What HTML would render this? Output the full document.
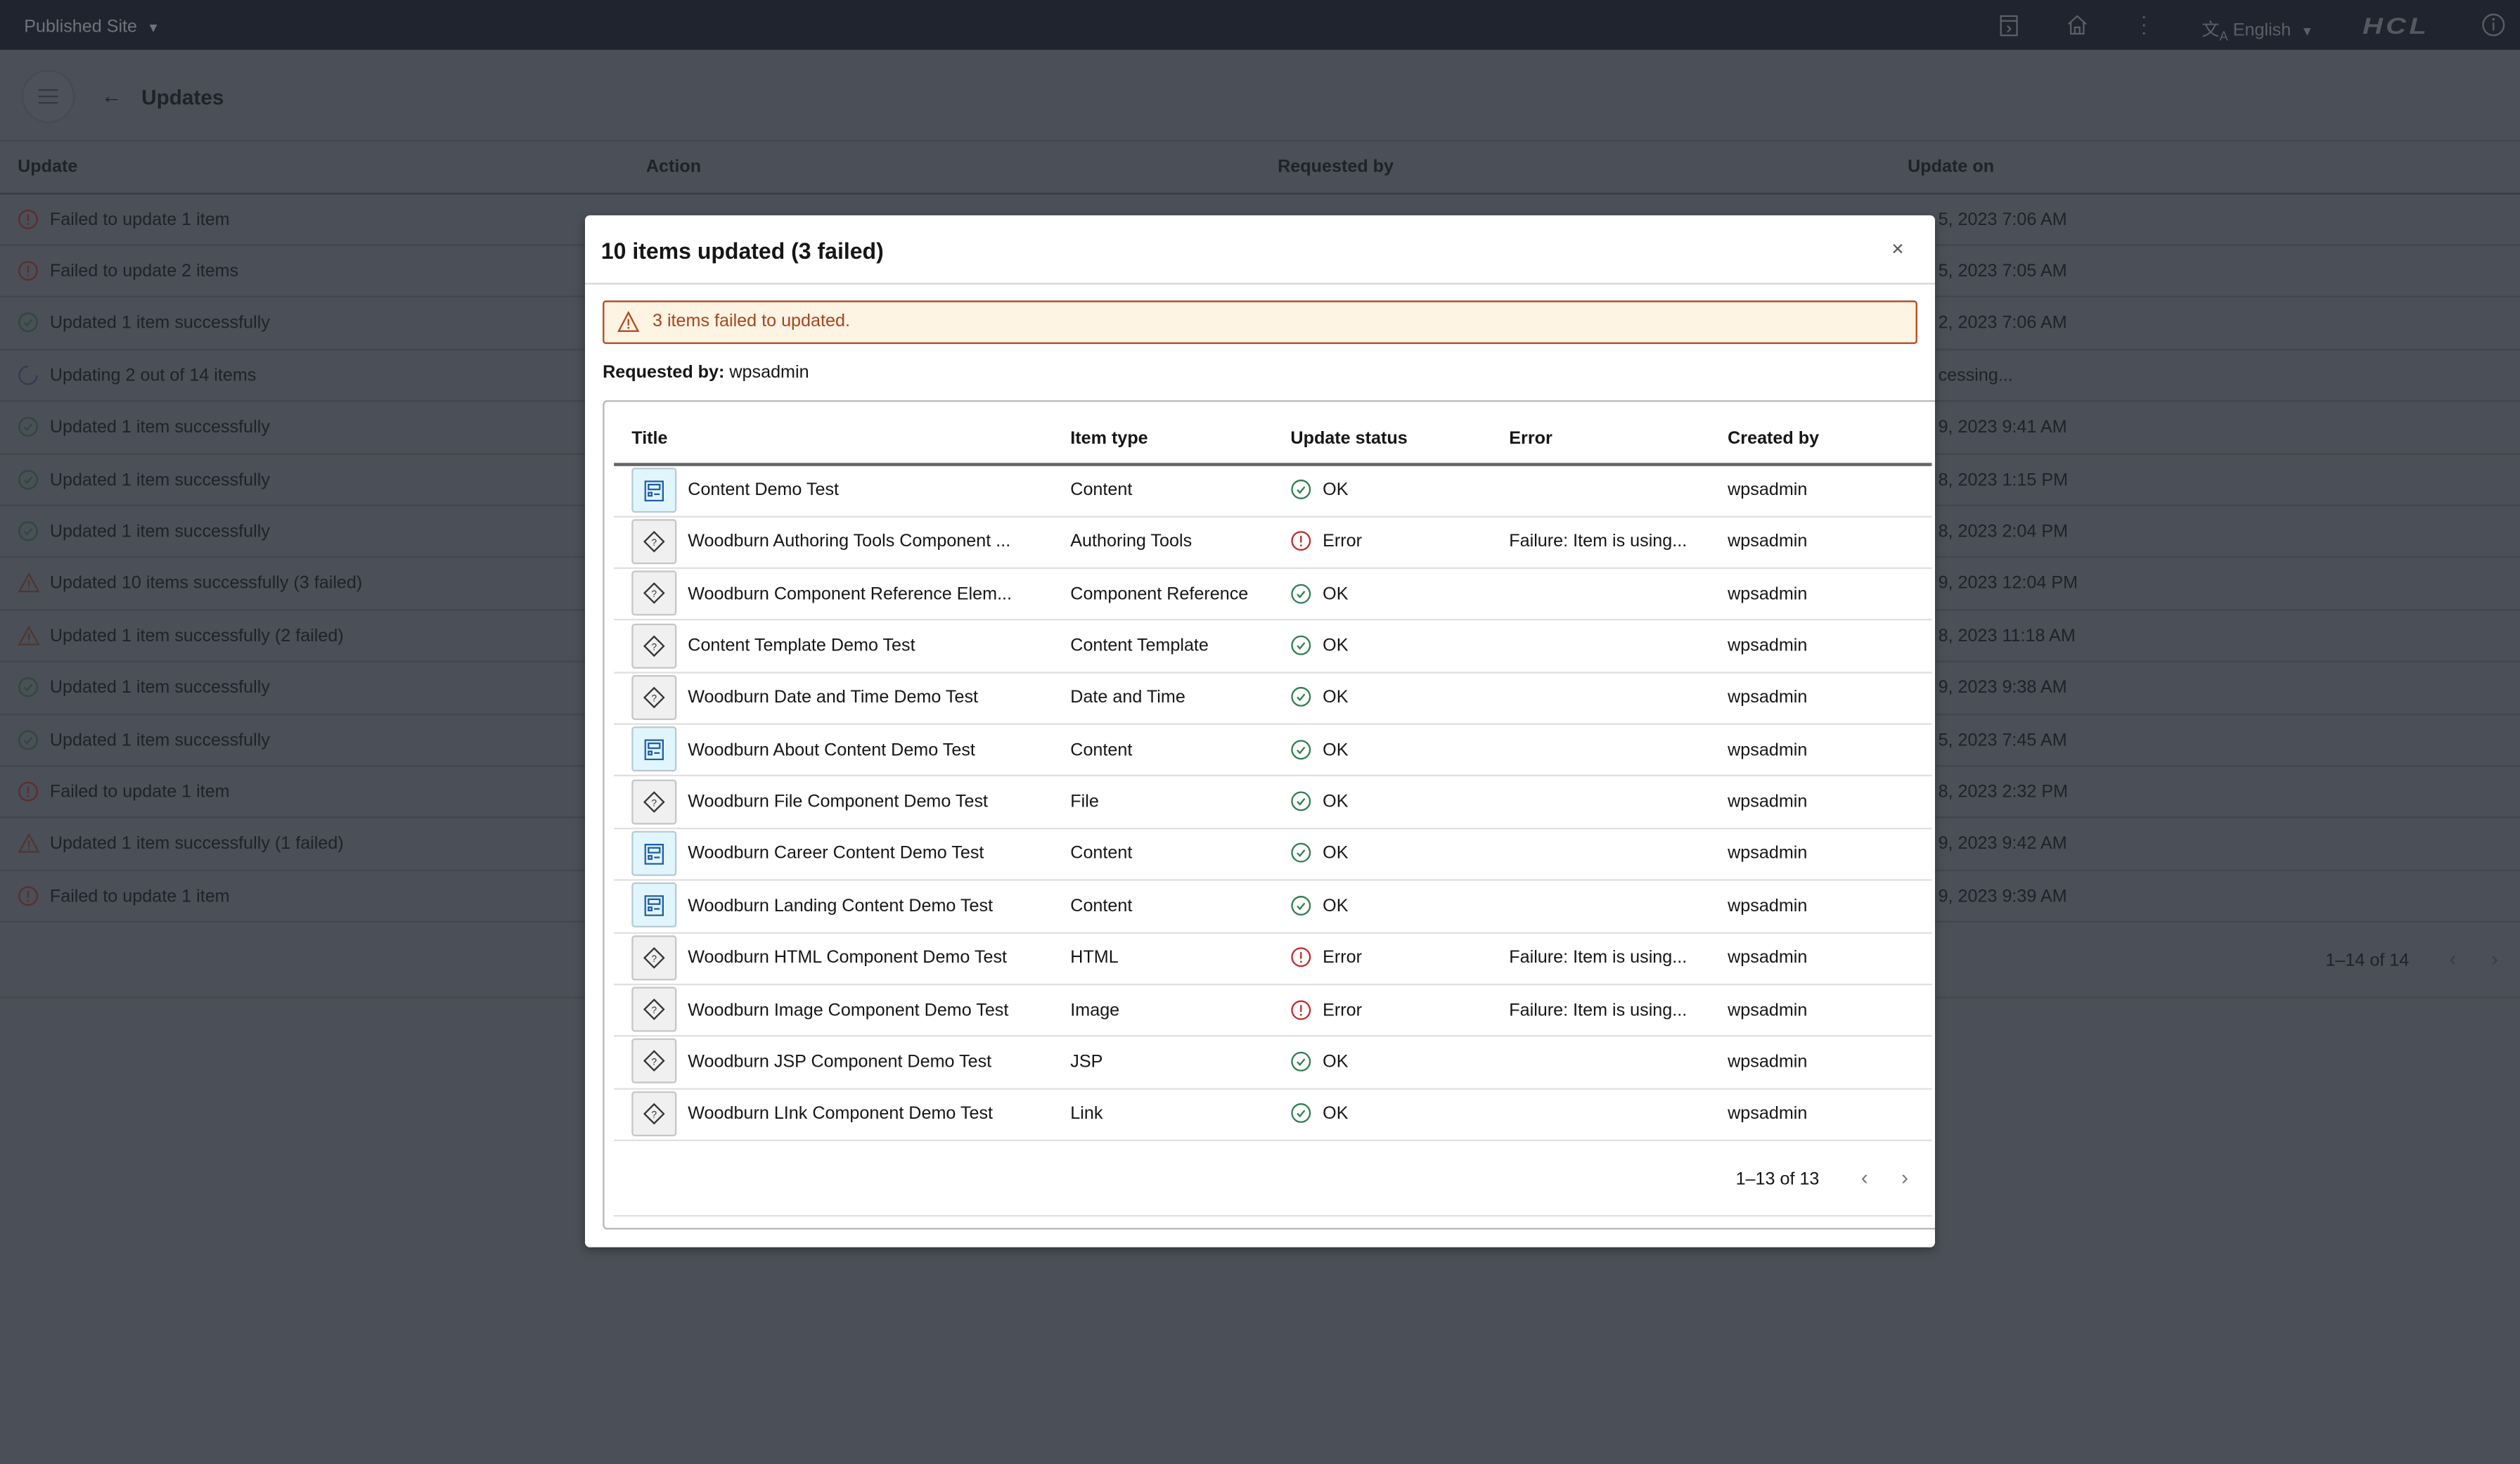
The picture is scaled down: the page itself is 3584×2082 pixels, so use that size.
<!DOCTYPE html>
<html><head><meta charset="utf-8"><style>
*{margin:0;padding:0;box-sizing:border-box}
html,body{width:3584px;height:2082px;overflow:hidden;background:#4b4f57}
#s{position:absolute;left:0;top:0;width:1568px;height:911px;transform:scale(2.285714);transform-origin:0 0;font-family:"Liberation Sans",sans-serif;font-size:11px;color:#1f2227;background:#4b4f57}
.a{position:absolute;white-space:nowrap}
.hl{position:absolute;height:1px;background:#43464d}
.m{color:#161616}
svg{position:absolute}
</style></head><body><div id="s">
<div class="a" style="left:0;top:0;width:1568px;height:31px;background:#20242e"></div>
<div class="a" style="left:15px;top:11px;color:#6f737b;font-size:11px">Published Site&nbsp;&nbsp;<span style="font-size:8px">▼</span></div>
<svg style="left:1244px;top:9px" width="12" height="14" viewBox="0 0 12 14"><rect x="1" y="1" width="10" height="12" fill="none" stroke="#5b5f66"/><line x1="1" y1="4" x2="11" y2="4" stroke="#5b5f66"/><path d="M5 7l2 2-2 2" fill="none" stroke="#5b5f66"/></svg>
<svg style="left:1285px;top:8px" width="15" height="15" viewBox="0 0 15 15"><path d="M2 7L7.5 2 13 7M3.5 6v7h8V6M6 13v-4h3v4" fill="none" stroke="#5b5f66"/></svg>
<div class="a" style="left:1332px;top:8px;width:3px;color:#5b5f66;font-size:12px;line-height:5px">·<br>·<br>·</div>
<div class="a" style="left:1370px;top:10px;color:#5b5f66;font-size:11px">文<sub style="font-size:8px">A</sub> English&nbsp;&nbsp;<span style="font-size:8px">▼</span></div>
<div class="a" style="left:1470px;top:8px;color:#55595f;font-size:14px;font-weight:bold;font-style:italic;letter-spacing:1.5px;transform:scaleX(1.25);transform-origin:0 0">HCL</div>
<svg style="left:1544px;top:8px" width="15" height="15"><circle cx="7.5" cy="7.5" r="6.5" fill="none" stroke="#5b5f66"/><line x1="7.5" y1="6" x2="7.5" y2="11" stroke="#5b5f66"/><circle cx="7.5" cy="4" r=".8" fill="#5b5f66"/></svg>
<svg style="left:12px;top:42px" width="36" height="36"><circle cx="18" cy="18" r="16" fill="#4d5159" stroke="#474a51"/><path d="M12 14h12M12 18h12M12 22h12" stroke="#34373d"/></svg>
<div class="a" style="left:63px;top:52px;font-size:13px">←</div>
<div class="a" style="left:88px;top:53px;font-size:13px;font-weight:bold">Updates</div>
<div class="hl" style="left:0;top:87px;width:1568px;background:#44474e"></div>
<div class="a" style="left:11px;top:98px;font-weight:bold">Update</div>
<div class="a" style="left:402px;top:98px;font-weight:bold">Action</div>
<div class="a" style="left:795px;top:98px;font-weight:bold">Requested by</div>
<div class="a" style="left:1187px;top:98px;font-weight:bold">Update on</div>
<div class="hl" style="left:0;top:120px;width:1568px;background:#36393f"></div>

<div id="rows"></div>
<script>
var T=[["e","Failed to update 1 item","5, 2023 7:06 AM"],["e","Failed to update 2 items","5, 2023 7:05 AM"],["o","Updated 1 item successfully","2, 2023 7:06 AM"],["p","Updating 2 out of 14 items","cessing..."],["o","Updated 1 item successfully","9, 2023 9:41 AM"],["o","Updated 1 item successfully","8, 2023 1:15 PM"],["o","Updated 1 item successfully","8, 2023 2:04 PM"],["w","Updated 10 items successfully (3 failed)","9, 2023 12:04 PM"],["w","Updated 1 item successfully (2 failed)","8, 2023 11:18 AM"],["o","Updated 1 item successfully","9, 2023 9:38 AM"],["o","Updated 1 item successfully","5, 2023 7:45 AM"],["e","Failed to update 1 item","8, 2023 2:32 PM"],["w","Updated 1 item successfully (1 failed)","9, 2023 9:42 AM"],["e","Failed to update 1 item","9, 2023 9:39 AM"]];
function ic(t,x,y,dim){var g=dim?"#2c4a3a":"#2e7d4f",r=dim?"#5e2c2e":"#c62828",w=dim?"#503630":"#b3471d";
if(t=="o")return '<svg style="left:'+x+'px;top:'+y+'px" width="13" height="13"><circle cx="6.5" cy="6.5" r="5.6" fill="none" stroke="'+g+'"/><path d="M4.2 6.7l1.6 1.8 3-3.6" fill="none" stroke="'+g+'"/></svg>';
if(t=="e")return '<svg style="left:'+x+'px;top:'+y+'px" width="13" height="13"><circle cx="6.5" cy="6.5" r="5.6" fill="none" stroke="'+r+'"/><line x1="6.5" y1="3.3" x2="6.5" y2="7.6" stroke="'+r+'"/><circle cx="6.5" cy="9.4" r=".6" fill="'+r+'"/></svg>';
if(t=="w")return '<svg style="left:'+x+'px;top:'+y+'px" width="14" height="13"><path d="M7 1.2L13 12H1z" fill="none" stroke="'+w+'"/><line x1="7" y1="5" x2="7" y2="9" stroke="'+w+'"/><circle cx="7" cy="10.4" r=".5" fill="'+w+'"/></svg>';
return '<svg style="left:'+x+'px;top:'+y+'px" width="13" height="13"><path d="M6.5 1A5.5 5.5 0 1 0 12 6.5" fill="none" stroke="#2f3c52"/></svg>';}
var h="";
for(var i=0;i<14;i++){var c=136+i*32.4;
h+=ic(T[i][0],11,c-6.5,1);
h+='<div class="a" style="left:31px;top:'+(c-5.5)+'px">'+T[i][1]+'</div>';
h+='<div class="a" style="left:1206px;top:'+(c-5.5)+'px">'+T[i][2]+'</div>';
h+='<div class="hl" style="left:0;top:'+(c+16)+'px;width:1568px"></div>';}
h+='<div class="a" style="left:1447px;top:592px">1–14 of 14</div><div class="a" style="left:1524px;top:589px;color:#3a3d43;font-size:13px">‹</div><div class="a" style="left:1550px;top:589px;color:#3a3d43;font-size:13px">›</div>';
h+='<div class="hl" style="left:0;top:620px;width:1568px;background:#44474e"></div>';
document.getElementById("rows").innerHTML=h;
</script>

<div class="a" style="left:364px;top:134px;width:840px;height:642px;background:#fff;border-radius:3px;box-shadow:0 2px 6px rgba(0,0,0,.3);overflow:hidden">
<div class="a" style="left:11px;top:115px;width:840px;height:516px;border:1px solid #b5b5b5;border-right:none;border-radius:3px 0 0 3px"></div>
</div>
<div class="a m" style="left:374px;top:148px;font-size:14px;font-weight:bold">10 items updated (3 failed)</div>
<div class="a" style="left:1177px;top:147px;font-size:13px;color:#555">×</div>
<div class="hl" style="left:364px;top:176px;width:840px;background:#d6d6d6"></div>
<div class="a" style="left:375px;top:187px;width:818px;height:27px;background:#fdf4e3;border:1px solid #b5461c;border-radius:2px"></div>
<svg style="left:384px;top:193px" width="14" height="14"><path d="M7 1.5L13 13H1z" fill="none" stroke="#b5461c"/><line x1="7" y1="5.5" x2="7" y2="9.5" stroke="#b5461c"/><circle cx="7" cy="11" r=".6" fill="#b5461c"/></svg>
<div class="a" style="left:406px;top:194px;color:#a9441c">3 items failed to updated.</div>
<div class="a m" style="left:375px;top:226px"><b>Requested by:</b> wpsadmin</div>
<div class="a m" style="left:393px;top:267px;font-weight:bold">Title</div>
<div class="a m" style="left:666px;top:267px;font-weight:bold">Item type</div>
<div class="a m" style="left:803px;top:267px;font-weight:bold">Update status</div>
<div class="a m" style="left:939px;top:267px;font-weight:bold">Error</div>
<div class="a m" style="left:1075px;top:267px;font-weight:bold">Created by</div>
<div class="hl" style="left:382px;top:288px;width:820px;height:1.5px;background:#666"></div>
<div id="mrows"></div>
<script>
var M=[["c","Content Demo Test","Content","o"],["d","Woodburn Authoring Tools Component ...","Authoring Tools","e"],["d","Woodburn Component Reference Elem...","Component Reference","o"],["d","Content Template Demo Test","Content Template","o"],["d","Woodburn Date and Time Demo Test","Date and Time","o"],["c","Woodburn About Content Demo Test","Content","o"],["d","Woodburn File Component Demo Test","File","o"],["c","Woodburn Career Content Demo Test","Content","o"],["c","Woodburn Landing Content Demo Test","Content","o"],["d","Woodburn HTML Component Demo Test","HTML","e"],["d","Woodburn Image Component Demo Test","Image","e"],["d","Woodburn JSP Component Demo Test","JSP","o"],["d","Woodburn LInk Component Demo Test","Link","o"]];
var h="";
for(var i=0;i<13;i++){var c=304.5+i*32.35;
if(M[i][0]=="c"){h+='<div class="a" style="left:393px;top:'+(c-14)+'px;width:28px;height:28px;background:#e1f6fc;border:1px solid #b9c9d2;border-radius:2px"></div><svg style="left:401px;top:'+(c-6)+'px" width="12" height="13"><rect x=".5" y=".5" width="11" height="12" fill="none" stroke="#1f5ca8"/><rect x="2.5" y="2.5" width="7" height="3" fill="none" stroke="#1f5ca8"/><rect x="2.5" y="7.5" width="2" height="2" fill="none" stroke="#1f5ca8"/><line x1="6" y1="8.5" x2="9.5" y2="8.5" stroke="#1f5ca8"/></svg>';}
else{h+='<div class="a" style="left:393px;top:'+(c-14)+'px;width:28px;height:28px;background:#f0f0f0;border:1px solid #c6c6c6;border-radius:2px"></div><svg style="left:400px;top:'+(c-7)+'px" width="14" height="14"><path d="M7 1L13 7 7 13 1 7z" fill="none" stroke="#333"/><text x="7" y="9.5" font-size="6" text-anchor="middle" font-family="Liberation Sans" fill="#333">?</text></svg>';}
var ty=c-5.5;
h+='<div class="a m" style="left:428px;top:'+ty+'px">'+M[i][1]+'</div>';
h+='<div class="a m" style="left:666px;top:'+ty+'px">'+M[i][2]+'</div>';
h+=ic(M[i][3],803,c-6.5,0);
h+='<div class="a m" style="left:823px;top:'+ty+'px">'+(M[i][3]=="o"?"OK":"Error")+'</div>';
if(M[i][3]=="e")h+='<div class="a m" style="left:939px;top:'+ty+'px">Failure: Item is using...</div>';
h+='<div class="a m" style="left:1075px;top:'+ty+'px">wpsadmin</div>';
h+='<div class="hl" style="left:382px;top:'+(c+16.2)+'px;width:820px;background:#e0e0e0"></div>';}
h+='<div class="a m" style="left:1080px;top:728px">1–13 of 13</div><div class="a" style="left:1158px;top:725px;color:#777;font-size:13px">‹</div><div class="a" style="left:1183px;top:725px;color:#777;font-size:13px">›</div>';
h+='<div class="hl" style="left:382px;top:756px;width:820px;background:#e0e0e0"></div>';
document.getElementById("mrows").innerHTML=h;
</script>
</div></body></html>
